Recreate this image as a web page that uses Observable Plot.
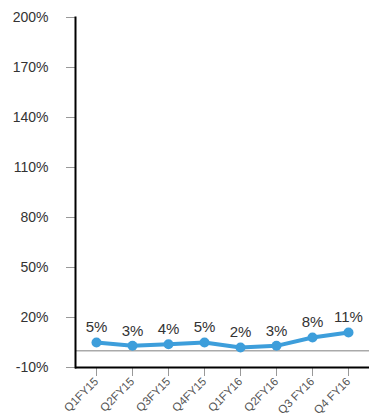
<!DOCTYPE html>
<html>
<head>
<meta charset="utf-8">
<script src="https://cdn.jsdelivr.net/npm/d3@7"></script>
<script src="https://cdn.jsdelivr.net/npm/@observablehq/plot@0.6"></script>
<style>
  html, body { margin: 0; padding: 0; background: #fff; }
  #chart svg { display: block; font-family: "Liberation Sans", Arial, sans-serif; }
</style>
</head>
<body>
<div id="chart"></div>
<script>
// Quarterly growth, FY15–FY16
const quarters = ["Q1FY15", "Q2FY15", "Q3FY15", "Q4FY15", "Q1FY16", "Q2FY16", "Q3 FY16", "Q4 FY16"];
const growth = [5, 3, 4, 5, 2, 3, 8, 11];
const yTicks = [-10, 20, 50, 80, 110, 140, 170, 200];

const rows = quarters.map((q, i) => ({quarter: q, value: growth[i]}));
const blue = "#3d9edb";

const chart = Plot.plot({
  width: 369,
  height: 416,
  marginTop: 17,
  marginLeft: 75,
  marginRight: 0,
  marginBottom: 49,
  style: {fontFamily: "Liberation Sans, Arial, sans-serif", color: "#333"},
  x: {type: "point", domain: quarters, padding: 0.5},
  y: {domain: [-10, 200]},
  marks: [
    Plot.axisY({ticks: yTicks, tickFormat: d => d + "%", tickSize: 9, tickPadding: 18, fontSize: 14, stroke: "#999", label: null}),
    Plot.axisX({tickSize: 9, tickPadding: 3, tickRotate: -45, fontSize: 11.5, stroke: "#999", fill: "#555", label: null}),
    Plot.ruleY([0], {stroke: "#aaa", strokeWidth: 1.5}),
    Plot.ruleY([-10], {stroke: "#000", strokeWidth: 2}),
    Plot.frame({anchor: "left", stroke: "#000", strokeWidth: 2}),
    Plot.line(rows, {x: "quarter", y: "value", stroke: blue, strokeWidth: 4, curve: "linear"}),
    Plot.dot(rows, {x: "quarter", y: "value", fill: blue, r: 5}),
    Plot.text(rows, {x: "quarter", y: "value", text: d => d.value + "%", dy: -15, fontSize: 15, fill: "#333"})
  ]
});
document.getElementById("chart").append(chart);
</script>
</body>
</html>
